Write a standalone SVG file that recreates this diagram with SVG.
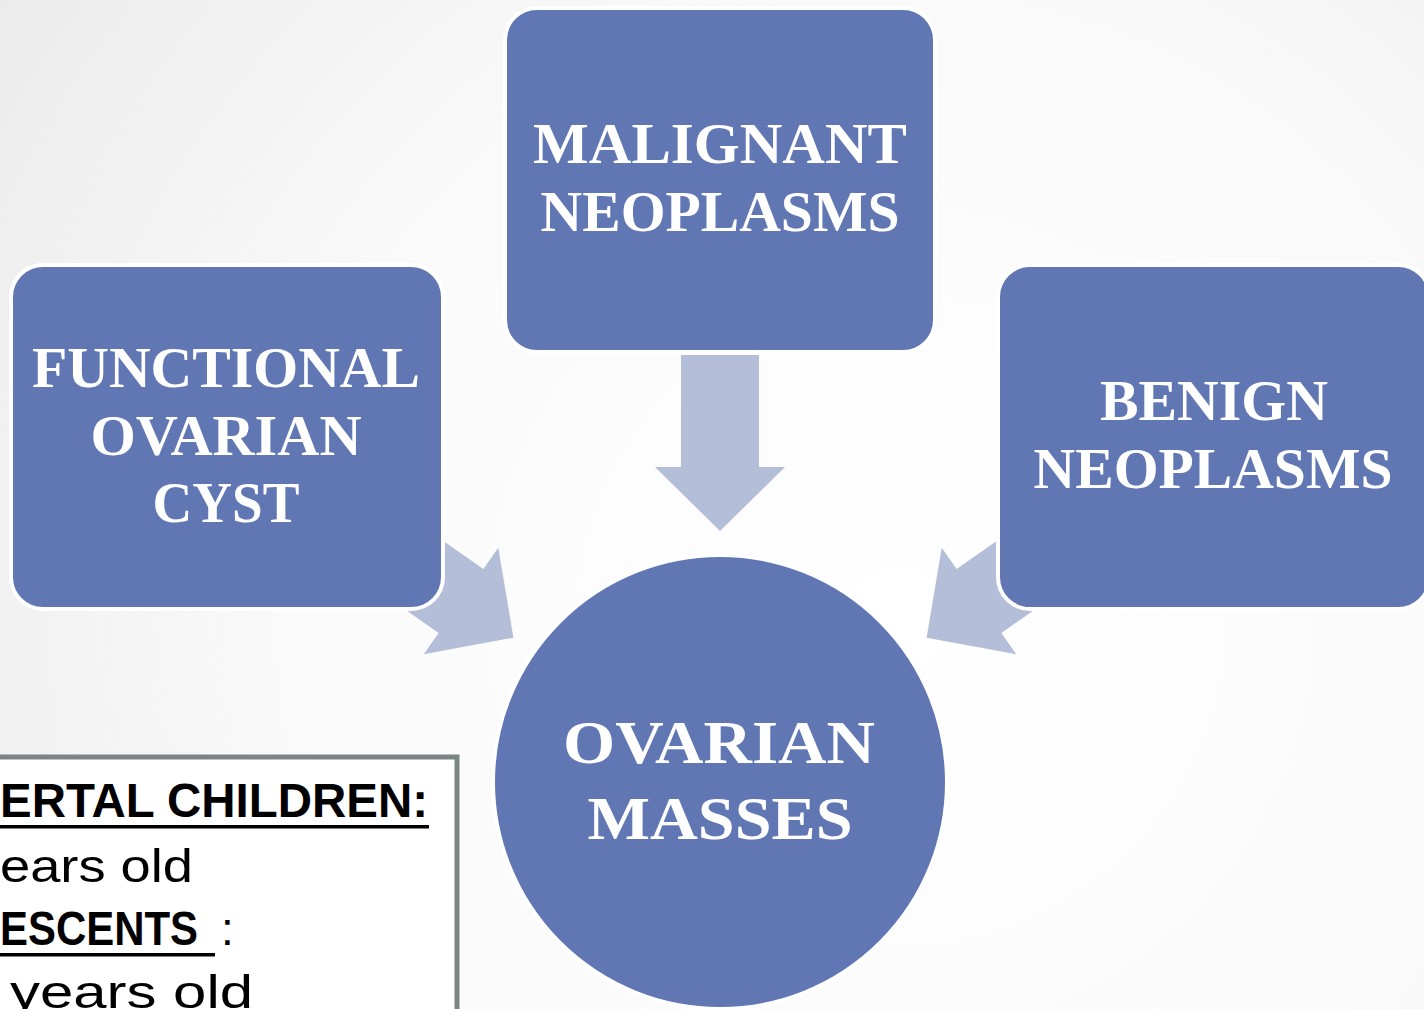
<svg xmlns="http://www.w3.org/2000/svg" width="1424" height="1009" viewBox="0 0 1424 1009">
<defs>
<radialGradient id="bg" cx="900" cy="620" r="1100" gradientUnits="userSpaceOnUse">
<stop offset="0" stop-color="#FFFFFF"/>
<stop offset="0.55" stop-color="#FAFAFA"/>
<stop offset="1" stop-color="#EBEBEB"/>
</radialGradient>
<path id="arrow" d="M -39,-112 L 39,-112 L 39,0 L 65,0 L 0,64 L -65,0 L -39,0 Z"/>
</defs>
<style>
.arr{fill:#B5BED8}
.node{fill:#6177B4;stroke:#FFFFFF;stroke-width:4}
.lbl{font-family:"Liberation Serif","Times New Roman",serif;font-weight:bold;fill:#FFFFFF;text-anchor:middle}
.note{font-family:"Liberation Sans",Arial,sans-serif;fill:#000000}
.hd{font-weight:bold}
</style>
<rect x="0" y="0" width="1424" height="1009" fill="url(#bg)"/>
<g id="connectors">
<use href="#arrow" class="arr" transform="translate(720,467)"/>
<use href="#arrow" class="arr" transform="translate(461,601) rotate(-55)"/>
<use href="#arrow" class="arr" transform="translate(979,601) rotate(55)"/>
</g>
<g id="node-malignant">
<rect class="node" x="505" y="8" width="430" height="344" rx="32"/>
<text class="lbl" x="720" y="163" font-size="57" textLength="374" lengthAdjust="spacingAndGlyphs">MALIGNANT</text>
<text class="lbl" x="720" y="231" font-size="57" textLength="359" lengthAdjust="spacingAndGlyphs">NEOPLASMS</text>
</g>
<g id="node-functional">
<rect class="node" x="11" y="265" width="432" height="344" rx="32"/>
<text class="lbl" x="226" y="387" font-size="57" textLength="388" lengthAdjust="spacingAndGlyphs">FUNCTIONAL</text>
<text class="lbl" x="226" y="455" font-size="57" textLength="271" lengthAdjust="spacingAndGlyphs">OVARIAN</text>
<text class="lbl" x="226" y="522" font-size="57" textLength="147" lengthAdjust="spacingAndGlyphs">CYST</text>
</g>
<g id="node-benign">
<rect class="node" x="998" y="265" width="432" height="344" rx="32"/>
<text class="lbl" x="1214" y="420" font-size="57" textLength="228" lengthAdjust="spacingAndGlyphs">BENIGN</text>
<text class="lbl" x="1213" y="488" font-size="57" textLength="359" lengthAdjust="spacingAndGlyphs">NEOPLASMS</text>
</g>
<g id="node-masses">
<circle class="node" cx="720" cy="782" r="227"/>
<text class="lbl" x="719" y="763" font-size="62" textLength="312" lengthAdjust="spacingAndGlyphs">OVARIAN</text>
<text class="lbl" x="720" y="839" font-size="62" textLength="265" lengthAdjust="spacingAndGlyphs">MASSES</text>
</g>
<g id="note">
<rect x="-20" y="757" width="477" height="280" fill="#FFFFFF" stroke="#7B8585" stroke-width="5"/>
<text class="note hd" x="0" y="817" font-size="48" textLength="428" lengthAdjust="spacingAndGlyphs">ERTAL CHILDREN:</text>
<rect x="0" y="825" width="429" height="3.5" fill="#000000"/>
<text class="note" x="0" y="882" font-size="46" textLength="193" lengthAdjust="spacingAndGlyphs">ears  old</text>
<text class="note hd" x="0" y="945" font-size="48" textLength="198" lengthAdjust="spacingAndGlyphs">ESCENTS</text>
<rect x="0" y="953" width="215" height="3.5" fill="#000000"/>
<text class="note" x="221" y="945" font-size="46">:</text>
<text class="note" x="10" y="1008" font-size="46" textLength="243" lengthAdjust="spacingAndGlyphs">years  old</text>
</g>
</svg>
